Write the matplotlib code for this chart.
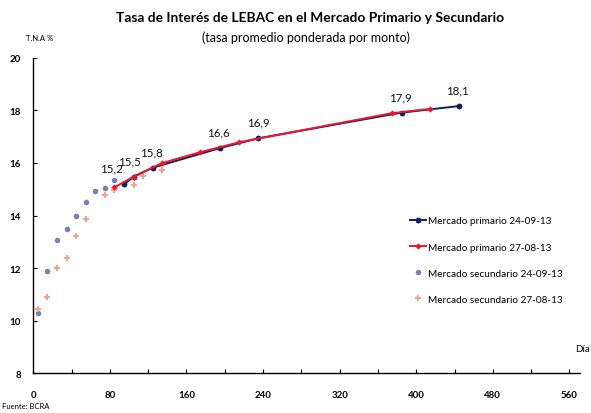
import matplotlib
matplotlib.use("Agg")
import matplotlib.pyplot as plt

plt.rcParams['font.family'] = ['Lato', 'DejaVu Sans']

# Data (days, T.N.A %)
prim_0924_x = [94.8, 104.9, 124.7, 195.0, 235.0, 384.9, 444.8]
prim_0924_y = [15.19, 15.48, 15.82, 16.57, 16.94, 17.92, 18.17]

prim_0827_x = [84.6, 104.9, 134.8, 174.2, 215.0, 374.8, 414.5]
prim_0827_y = [15.07, 15.48, 16.00, 16.41, 16.79, 17.90, 18.06]

sec_0924_x = [4.6, 14.6, 24.8, 34.9, 44.9, 54.7, 64.8, 74.6, 84.6]
sec_0924_y = [10.27, 11.87, 13.07, 13.50, 13.98, 14.50, 14.93, 15.06, 15.34]

sec_0827_x = [4.6, 14.6, 24.8, 34.9, 44.9, 54.7, 74.6, 84.6, 104.9, 114.9, 134.8]
sec_0827_y = [10.43, 10.91, 12.00, 12.38, 13.21, 13.88, 14.80, 14.97, 15.17, 15.49, 15.74]

label_texts = ["15,2", "15,5", "15,8", "16,6", "16,9", "17,9", "18,1"]
label_dx = [-9, -3, -1, -1, 0, -1, -1]

x_major = list(range(0, 561, 80))
x_minor = list(range(0, 561, 40))
y_ticks = list(range(8, 21, 2))

fig = plt.figure(figsize=(5.91, 4.14), dpi=100)
ax = fig.add_axes([0.0563, 0.0966, 0.9251, 0.7609])

navy = '#0c1f5e'
red = '#f0142d'
lav = '#7b7fb3'
pink = '#f7a08f'

ax.plot(sec_0924_x, sec_0924_y, linestyle='none', marker='o', markersize=4,
        color=lav, markeredgewidth=0, label='Mercado secundario 24-09-13', zorder=2)
ax.plot(sec_0827_x, sec_0827_y, linestyle='none', marker='P', markersize=4,
        color=pink, markeredgewidth=0, label='Mercado secundario 27-08-13', zorder=2)
l1, = ax.plot(prim_0924_x, prim_0924_y, color=navy, lw=1.4, marker='o', markersize=4.2,
              markeredgewidth=0, label='Mercado primario 24-09-13', zorder=3)
l2, = ax.plot(prim_0827_x, prim_0827_y, color=red, lw=1.4, marker='D', markersize=3.2,
              markeredgewidth=0, label='Mercado primario 27-08-13', zorder=4)

for t, x, y, dx in zip(label_texts, prim_0924_x, prim_0924_y, label_dx):
    ax.annotate(t, (x, y), xytext=(dx, 7.5), textcoords='offset points',
                ha='center', va='bottom', fontsize=8.3, color='#111111')

ax.set_xlim(0, 571)
ax.set_ylim(8, 20)
ax.set_xticks(x_major)
ax.set_xticks(x_minor, minor=True)
ax.set_yticks(y_ticks)
ax.tick_params(axis='x', which='both', direction='in', length=3, width=0.8,
               labelsize=7, pad=12)
ax.tick_params(axis='y', which='both', direction='in', length=3, width=0.8,
               labelsize=7, pad=9)
for lab in ax.get_xticklabels() + ax.get_yticklabels():
    lab.set_fontweight('bold')
ax.spines['top'].set_visible(False)
ax.spines['right'].set_visible(False)
ax.spines['left'].set_linewidth(1.0)
ax.spines['bottom'].set_linewidth(1.0)

handles, labels = ax.get_legend_handles_labels()
order = [2, 3, 0, 1]
leg = ax.legend([handles[i] for i in order], [labels[i] for i in order],
                loc='upper left', bbox_to_anchor=(0.682, 0.51), frameon=False,
                fontsize=7.2, labelspacing=1.72, handlelength=1.6, handletextpad=0.2,
                borderaxespad=0)

fig.text(0.525, 0.957, 'Tasa de Interés de LEBAC en el Mercado Primario y Secundario',
         ha='center', va='center', fontsize=9.9, fontweight='bold')
fig.text(0.518, 0.908, '(tasa promedio ponderada por monto)', ha='center', va='center',
         fontsize=9)
fig.text(0.044, 0.908, 'T.N.A %', ha='left', va='center', fontsize=5.5)
fig.text(0.998, 0.155, 'Día', ha='right', va='center', fontsize=7)
fig.text(0.003, 0.017, 'Fuente: BCRA', ha='left', va='center', fontsize=5.5)

fig.savefig('out.png', dpi=100)
